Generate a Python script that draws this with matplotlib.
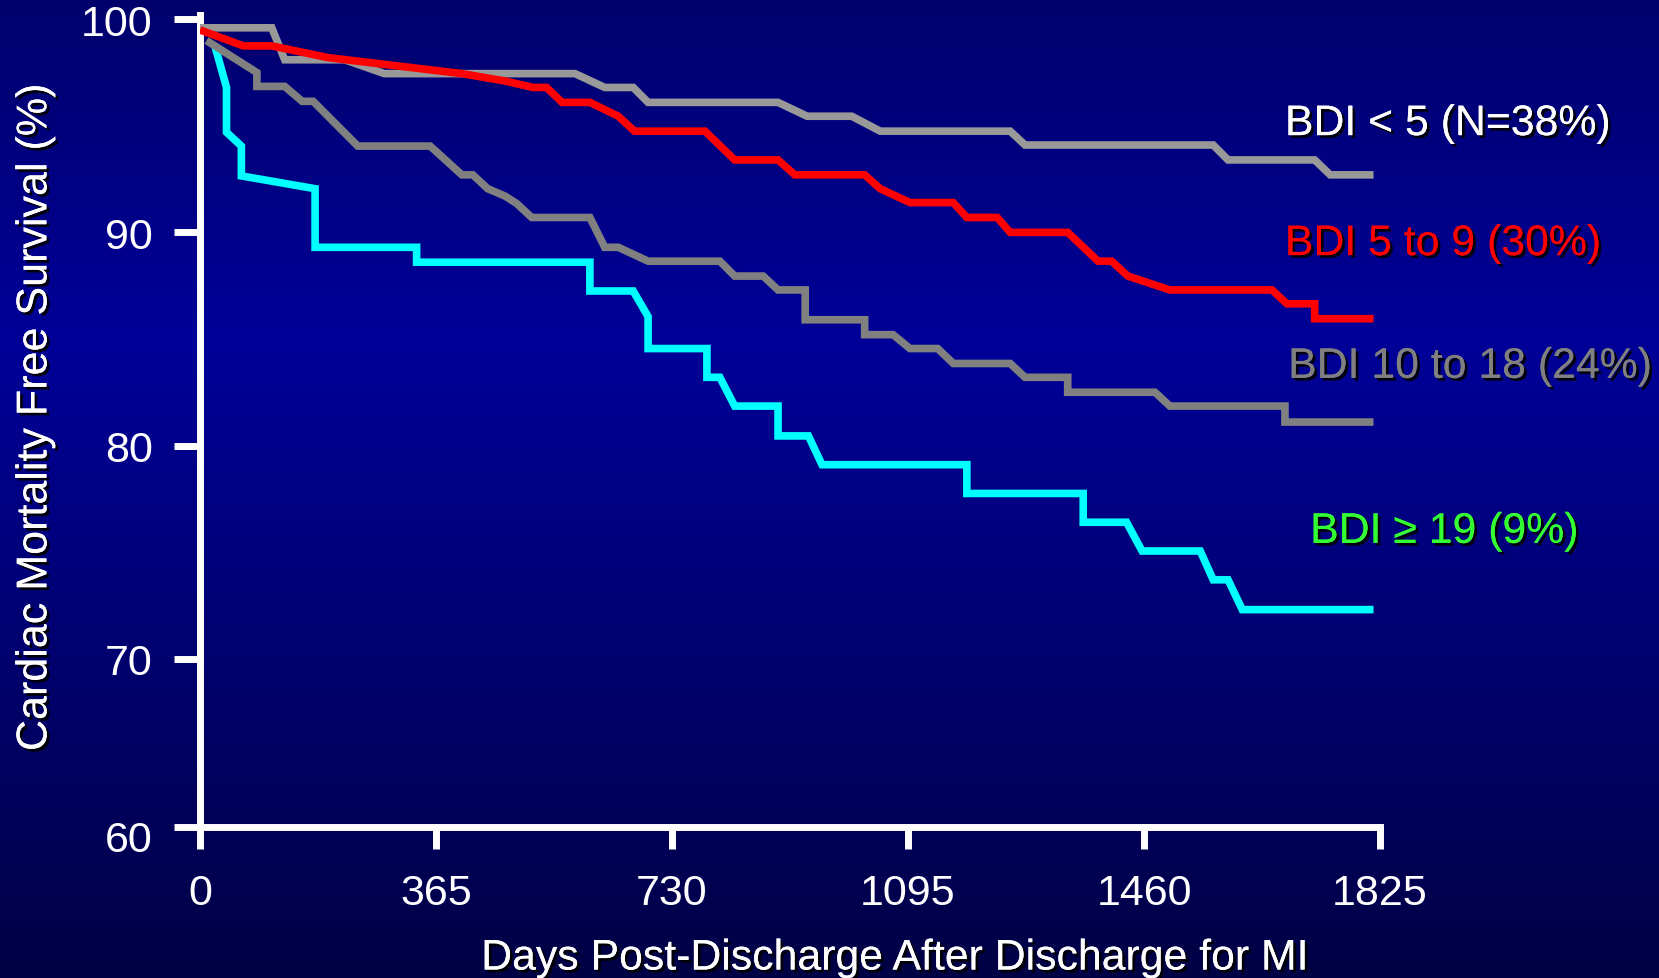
import numpy as np
import matplotlib
matplotlib.use('Agg')
import matplotlib.pyplot as plt
import matplotlib.patheffects as pe
from matplotlib.transforms import ScaledTranslation

plt.rcParams['font.family'] = ['Liberation Sans', 'DejaVu Sans']

# --- data ---
days_lt5 = [0, 111, 131, 224, 285, 580, 626, 670, 693, 894, 939, 1008, 1052, 1253, 1276, 1567, 1590, 1724, 1748, 1815]
surv_lt5 = [99.6, 99.6, 98.1, 98.1, 97.45, 97.45, 96.8, 96.8, 96.1, 96.1, 95.45, 95.45, 94.75, 94.75, 94.1, 94.1, 93.4, 93.4, 92.7, 92.7]

days_5_9 = [0, 67, 111, 198, 405, 472, 515, 536, 560, 603, 647, 672, 781, 827, 894, 920, 1028, 1052, 1098,
            1165, 1186, 1233, 1253, 1342, 1389, 1410, 1435, 1500, 1658, 1681, 1724, 1724, 1815]
surv_5_9 = [99.5, 98.75, 98.75, 98.2, 97.45, 97.1, 96.8, 96.8, 96.1, 96.1, 95.45, 94.75, 94.75, 93.4, 93.4, 92.7, 92.7, 92.05, 91.4,
            91.4, 90.7, 90.7, 90.0, 90.0, 88.65, 88.65, 87.95, 87.3, 87.3, 86.65, 86.65, 85.95, 85.95]

days_10_18 = [10, 88, 88, 131, 158, 175, 244, 356, 405, 422, 445, 472, 490, 513, 603, 626, 647, 693, 804, 827,
              871, 894, 936, 936, 1028, 1028, 1072, 1098, 1141, 1165, 1253, 1276, 1342, 1342, 1477, 1500, 1678, 1678, 1815]
surv_10_18 = [99.0, 97.5, 96.85, 96.85, 96.15, 96.15, 94.05, 94.05, 92.7, 92.7, 92.05, 91.7, 91.35, 90.7, 90.7, 89.3, 89.3, 88.65, 88.65, 87.95,
              87.95, 87.3, 87.3, 85.9, 85.9, 85.2, 85.2, 84.55, 84.55, 83.85, 83.85, 83.2, 83.2, 82.5, 82.5, 81.85, 81.85, 81.1, 81.1]

days_ge19 = [23, 41, 41, 64, 64, 178, 178, 335, 335, 603, 603, 670, 693, 693, 784, 784, 804, 827, 894, 894,
             941, 962, 1186, 1186, 1366, 1366, 1433, 1457, 1547, 1567, 1590, 1612, 1815]
surv_ge19 = [98.75, 96.8, 94.7, 94.05, 92.65, 92.05, 89.3, 89.3, 88.6, 88.6, 87.25, 87.25, 86.05, 84.55, 84.55, 83.2, 83.2, 81.85, 81.85, 80.45,
             80.45, 79.1, 79.1, 77.75, 77.75, 76.4, 76.4, 75.05, 75.05, 73.7, 73.7, 72.3, 72.3]

group_labels = ['BDI < 5 (N=38%)', 'BDI 5 to 9 (30%)', 'BDI 10 to 18 (24%)', 'BDI \u2265 19 (9%)']

x_ticks = [0, 365, 730, 1095, 1460, 1825]
y_tick_labels = ['60', '70', '80', '90', '100']

# --- figure ---
fig = plt.figure(figsize=(16.59, 9.79), dpi=100)

# background gradient (dark navy -> blue -> dark navy)
bg = fig.add_axes([0, 0, 1, 1], zorder=0)
yy = np.linspace(0, 1, 400)
r = np.zeros_like(yy)
g = np.zeros_like(yy)
b = np.interp(yy, [0, 0.35, 1.0], [108, 152, 68]) / 255.0
grad = np.stack([r, g, b], axis=1)[:, None, :]
bg.imshow(grad, aspect='auto', extent=[0, 1, 1, 0])
bg.set_axis_off()

ax = fig.add_axes([200 / 1659, 1 - 828 / 979, 1180 / 1659, 812 / 979], zorder=1)
ax.patch.set_alpha(0)

lw = 5.5
style = dict(lw=lw, solid_joinstyle='miter', solid_capstyle='butt')
ax.plot(days_ge19, surv_ge19, color='#00ffff', zorder=3, **style)
ax.plot(days_10_18, surv_10_18, color='#808080', zorder=3, **style)
ax.plot(days_lt5, surv_lt5, color='#999999', zorder=4, **style)
ax.plot(days_5_9, surv_5_9, color='#ff0000', zorder=5, **style)

ax.set_xlim(0, 1825)
ax.set_ylim(62.1, 100.2)

for s in ['top', 'right']:
    ax.spines[s].set_visible(False)
for s in ['left', 'bottom']:
    ax.spines[s].set_color('white')
    ax.spines[s].set_linewidth(5)

ax.set_xticks(x_ticks)
ax.set_xticklabels([str(t) for t in x_ticks])
# the bottom tick is labelled 60 although the axis is cut short there
ax.set_yticks([62.1, 70, 80, 90, 100])
ax.set_yticklabels(y_tick_labels)

ax.tick_params(axis='y', direction='out', length=19, width=5, color='white',
               labelcolor='white', labelsize=31, pad=15)
ax.tick_params(axis='x', direction='out', length=16, width=5, color='white',
               labelcolor='white', labelsize=31, pad=17)

# "60" sits a little below its tick in the original
lab60 = ax.get_yticklabels()[0]
lab60.set_transform(lab60.get_transform() + ScaledTranslation(0, -0.09, fig.dpi_scale_trans))

shadow = [pe.withSimplePatchShadow(offset=(2, -2), shadow_rgbFace='black', alpha=0.9), pe.Normal()]

ax.set_xlabel('Days Post-Discharge After Discharge for MI', color='white', fontsize=30.8,
              va='center', path_effects=shadow)
ax.xaxis.set_label_coords(0.589, -0.162)
ax.set_ylabel('Cardiac Mortality Free Survival (%)', color='white', fontsize=31,
              va='center', path_effects=shadow)
ax.yaxis.set_label_coords(-0.1395, 0.504)

label_pos = [(1678, 95.08), (1678, 89.45), (1683, 83.69), (1717, 75.95)]
label_colors = ['white', '#ff0000', '#808080', '#33ff33']
for txt, (lx, ly), c in zip(group_labels, label_pos, label_colors):
    ax.text(lx, ly, txt, color=c, fontsize=30.8, ha='left', va='center',
            path_effects=shadow, clip_on=False, zorder=6)

fig.savefig('out.png', dpi=100)
